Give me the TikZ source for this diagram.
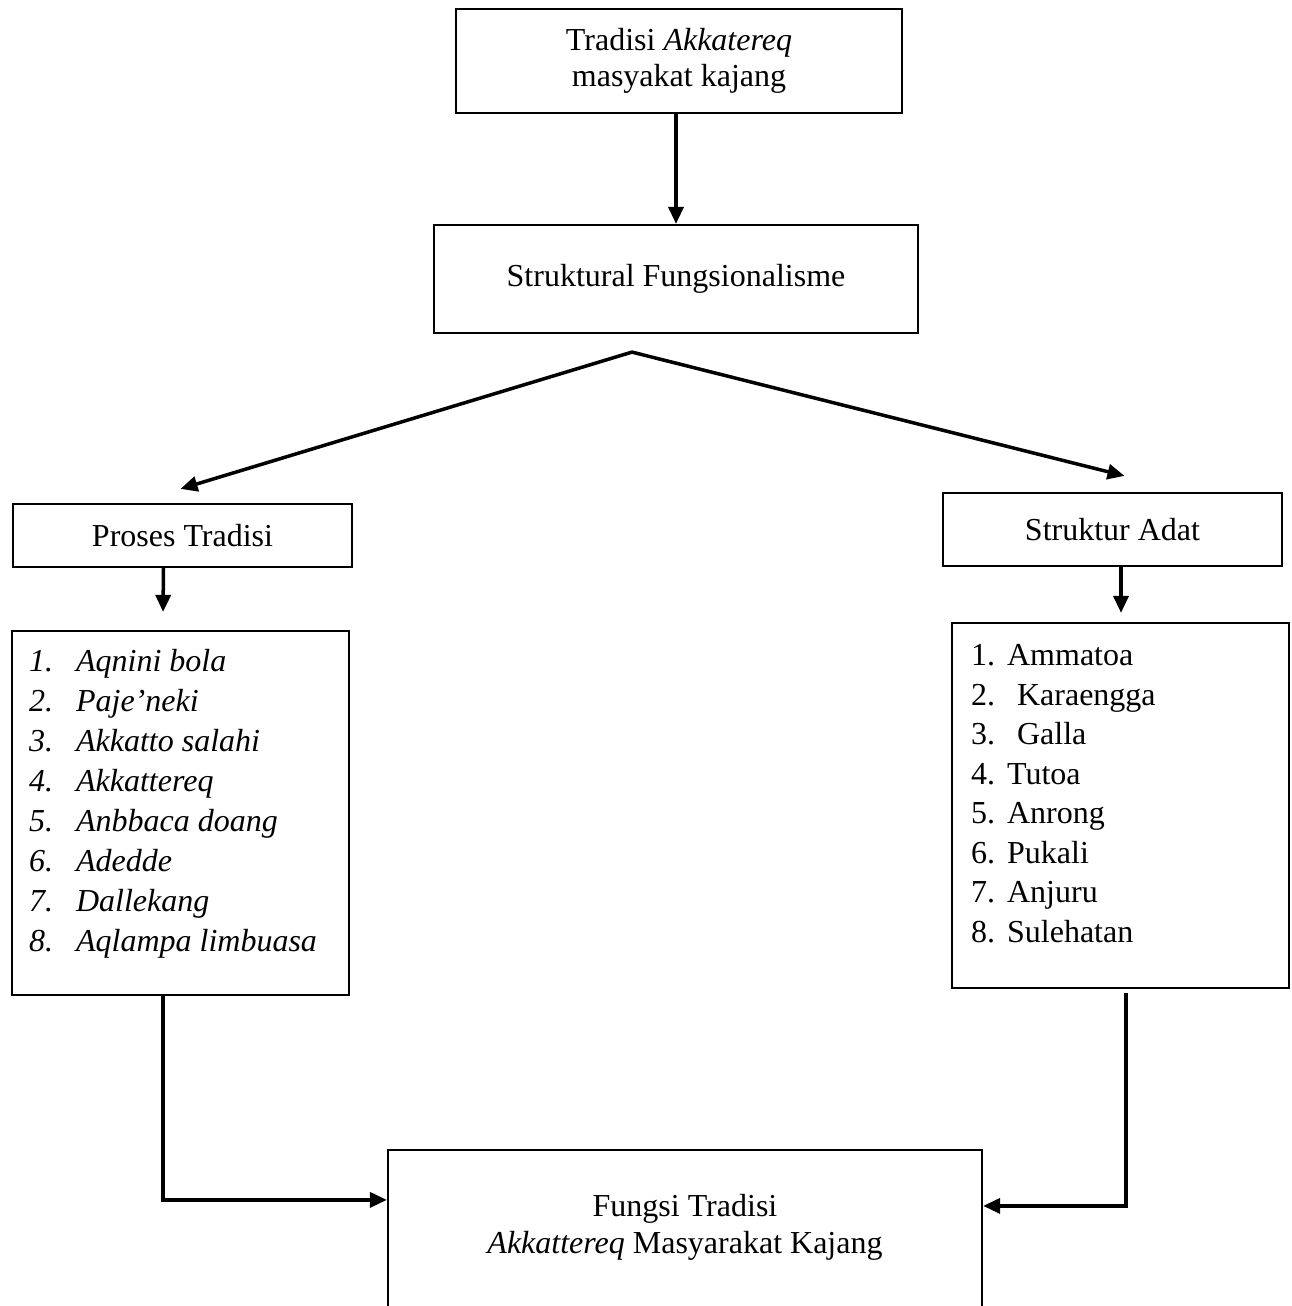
\documentclass[tikz,border=0pt]{standalone}
\usepackage{fontspec}
\setmainfont{Liberation Serif}
\usetikzlibrary{arrows.meta}

\tikzset{
  box/.style={draw, line width=2.2pt, inner sep=0pt, align=center, font=\fontsize{32}{36}\selectfont},
  listtext/.style={inner sep=0pt, anchor=base west, font=\fontsize{32}{40}\selectfont},
  link/.style={line width=3.5pt, -{Triangle[length=17pt,width=15pt]}},
}

\begin{document}
\begin{tikzpicture}[x=1pt, y=-1pt]
  \useasboundingbox (0,0) rectangle (1291,1306);
  \clip (0,0) rectangle (1291,1306);

  \node[box, minimum width=446pt, minimum height=104pt] (tradisi) at (679,61) {Tradisi \textit{Akkatereq}\\masyakat kajang};
  \node[box, minimum width=484pt, minimum height=108pt] (struktural) at (676,279) {Struktural Fungsionalisme};
  \node[box, minimum width=339pt, minimum height=63pt] (proses) at (182.5,535.5) {Proses Tradisi};
  \node[box, minimum width=339pt, minimum height=73pt] (adat) at (1112.5,529.5) {Struktur Adat};
  \node[box, minimum width=337pt, minimum height=364pt] (llist) at (180.5,813) {};
  \node[box, minimum width=337pt, minimum height=365pt] (rlist) at (1120.5,805.5) {};
  \node[box, minimum width=594pt, minimum height=180pt] (fungsi) at (685,1240) {};

  % isi daftar
  \node[listtext] (llisttext) at ([xshift=18pt,yshift=-42pt]llist.north west) {\itshape
    \begin{tabular}[t]{@{}p{47pt}@{}l@{}}
      1. & Aqnini bola\\
      2. & Paje’neki\\
      3. & Akkatto salahi\\
      4. & Akkattereq\\
      5. & Anbbaca doang\\
      6. & Adedde\\
      7. & Dallekang\\
      8. & Aqlampa limbuasa
    \end{tabular}};
  \node[listtext, font=\fontsize{32}{39.5}\selectfont] (rlisttext) at ([xshift=20pt,yshift=-44pt]rlist.north west) {%
    \begin{tabular}[t]{@{}p{36pt}@{}l@{}}
      1. & Ammatoa\\
      2. & \hspace{10pt}Karaengga\\
      3. & \hspace{10pt}Galla\\
      4. & Tutoa\\
      5. & Anrong\\
      6. & Pukali\\
      7. & Anjuru\\
      8. & Sulehatan
    \end{tabular}};
  \node[inner sep=0pt, align=center, font=\fontsize{32}{37}\selectfont] (fungsitext) at ([yshift=-78pt]fungsi.north) {Fungsi Tradisi\\\textit{Akkattereq} Masyarakat Kajang};

  \coordinate (fork) at ([xshift=-44pt,yshift=-18pt]struktural.south);

  \draw[link] (tradisi.south -| struktural.north) -- (struktural.north);
  \draw[link, line cap=round] (fork) -- ([xshift=-2pt,yshift=14pt]proses.north);
  \draw[link, line cap=round] (fork) -- ([xshift=12pt,yshift=16pt]adat.north);
  \draw[link] ([xshift=-19pt]proses.south) -- ([xshift=-17.5pt,yshift=18pt]llist.north);
  \draw[link] ([xshift=8.5pt]adat.south) -- ([xshift=0.5pt,yshift=9pt]rlist.north);
  \draw[link] ([xshift=-17.5pt]llist.south) |- ([yshift=-51pt]fungsi.north west);
  \draw[link] ([xshift=5.5pt,yshift=-4pt]rlist.south) |- ([yshift=-57pt]fungsi.north east);
\end{tikzpicture}
\end{document}
